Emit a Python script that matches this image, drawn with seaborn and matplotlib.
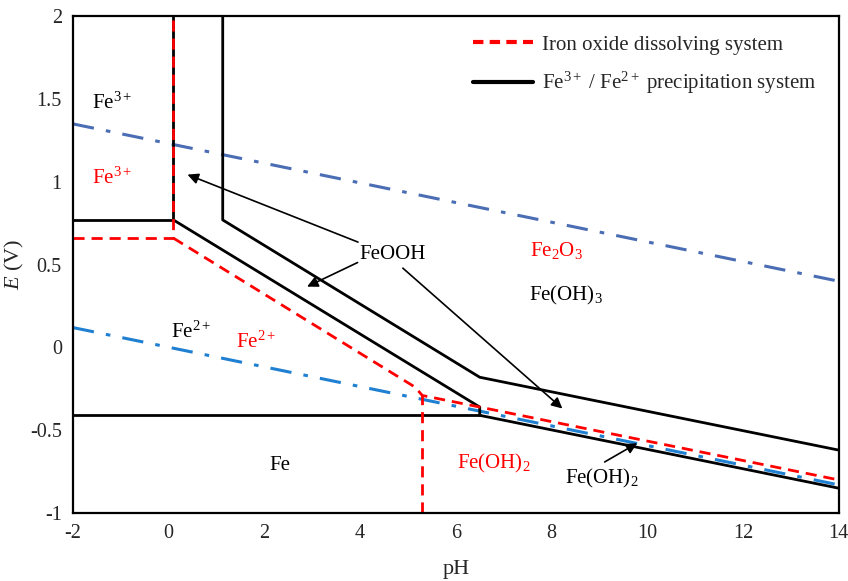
import numpy as np
import pandas as pd
import matplotlib
matplotlib.use('Agg')
import matplotlib.pyplot as plt
import seaborn as sns
from matplotlib.lines import Line2D

# --- data ---
# Fe3+/Fe2+ precipitation system (black solid)
blk_left_ph = [-2, 0.1, 0.1]
blk_left_e = [0.77, 0.77, 2.0]
blk_low_ph = [0.1, 6.5, 6.5, 14]
blk_low_e = [0.77, -0.36, -0.41, -0.85]
blk_fe_ph = [-2, 6.5]
blk_fe_e = [-0.41, -0.41]
blk_up_ph = [1.13, 1.13, 6.5, 14]
blk_up_e = [2.0, 0.77, -0.18, -0.62]

# iron oxide dissolving system (red dashed)
red_left_ph = [-2, 0.1, 0.1]
red_left_e = [0.66, 0.66, 2.0]
red_diag_ph = [0.1, 5.15, 5.3, 6.5, 14]
red_diag_e = [0.66, -0.24, -0.29, -0.36, -0.80]
red_vert_ph = [5.3, 5.3]
red_vert_e = [-1.0, -0.29]

# water stability lines (dash-dot)
o2_ph = [-2, 14]
o2_e = [1.35, 0.40]
h2_ph = [-2, 14]
h2_e = [0.12, -0.83]

# region labels
lab_x = [-1.6, -1.6, 0.46, 1.82, 4.68, 8.10, 8.31, 2.32, 6.79, 9.06]
lab_y = [1.475, 1.02, 0.09, 0.03, 0.563, 0.588, 0.316, -0.71, -0.70, -0.79]
lab_s = ['Fe$^{3+}$', 'Fe$^{3+}$', 'Fe$^{2+}$', 'Fe$^{2+}$', 'FeOOH', 'Fe$_2$O$_3$',
         'Fe(OH)$_3$', 'Fe', 'Fe(OH)$_2$', 'Fe(OH)$_2$']
lab_c = ['black', 'red', 'black', 'red', 'black', 'red', 'black', 'black', 'red', 'black']
lab_ha = ['left', 'left', 'center', 'center', 'center', 'center', 'center', 'center', 'center', 'center']

# arrows (tail -> head)
arr_tail = [(4.01, 0.63), (4.0, 0.52), (4.85, 0.49), (9.06, -0.70)]
arr_head = [(0.34, 1.05), (2.84, 0.36), (8.27, -0.38), (9.84, -0.57)]

sns.set_style('white')
plt.rcParams['font.family'] = ['Liberation Serif', 'DejaVu Serif']
plt.rcParams['mathtext.fontset'] = 'custom'
plt.rcParams['mathtext.rm'] = 'Liberation Serif'
plt.rcParams['mathtext.it'] = 'Liberation Serif:italic'

fig = plt.figure(figsize=(8.48, 5.81), dpi=100)
ax = fig.add_axes([0.086, 0.117, 0.903, 0.855])

def seg(x, y, **kw):
    d = pd.DataFrame({'pH': x, 'E': y})
    sns.lineplot(data=d, x='pH', y='E', sort=False, estimator=None, ax=ax, **kw)

blue1 = '#4a6db4'
blue2 = '#1f7fd0'
seg(o2_ph, o2_e, color=blue1, lw=2.2, linestyle=(0, (7, 4, 1.5, 4)))
seg(h2_ph, h2_e, color=blue2, lw=2.2, linestyle=(0, (7, 4, 1.5, 4)))

for xx, yy in [(blk_left_ph, blk_left_e), (blk_low_ph, blk_low_e),
               (blk_fe_ph, blk_fe_e), (blk_up_ph, blk_up_e)]:
    seg(xx, yy, color='black', lw=2.0)

for xx, yy in [(red_left_ph, red_left_e), (red_diag_ph, red_diag_e),
               (red_vert_ph, red_vert_e)]:
    seg(xx, yy, color='red', lw=2.0, linestyle=(0, (4, 2.5)))

for x, y, s, c, ha in zip(lab_x, lab_y, lab_s, lab_c, lab_ha):
    ax.text(x, y, s, color=c, ha=ha, va='center', fontsize=15)

for t, h in zip(arr_tail, arr_head):
    ax.annotate('', xy=h, xytext=t,
                arrowprops=dict(arrowstyle='-|>', color='black', lw=1.2, mutation_scale=16))

ax.set_xlim(-2, 14)
ax.set_ylim(-1, 2)
ax.set_xticks(np.arange(-2, 15, 2))
ax.set_yticks([-1, -0.5, 0, 0.5, 1, 1.5, 2])
ax.set_yticklabels(['-1', '-0.5', '0', '0.5', '1', '1.5', '2'])
ax.set_xticklabels([str(v) for v in range(-2, 15, 2)])
ax.tick_params(length=0, labelsize=14.5, pad=8)
ax.set_xlabel('pH', fontsize=16, labelpad=12)
ax.set_ylabel('$E$ (V)', fontsize=16, labelpad=3)
for sp in ax.spines.values():
    sp.set_color('black')
    sp.set_linewidth(1.6)

handles = [Line2D([], [], color='red', lw=3, linestyle=(0, (2.5, 1.5))),
           Line2D([], [], color='black', lw=3)]
ax.legend(handles, ['Iron oxide dissolving system', 'Fe$^{3+}$ / Fe$^{2+}$ precipitation system'],
          loc='upper right', bbox_to_anchor=(0.995, 1.0), frameon=False, fontsize=15,
          handlelength=2.9, labelspacing=0.75, handletextpad=0.4)

fig.savefig('out.png', dpi=100)
